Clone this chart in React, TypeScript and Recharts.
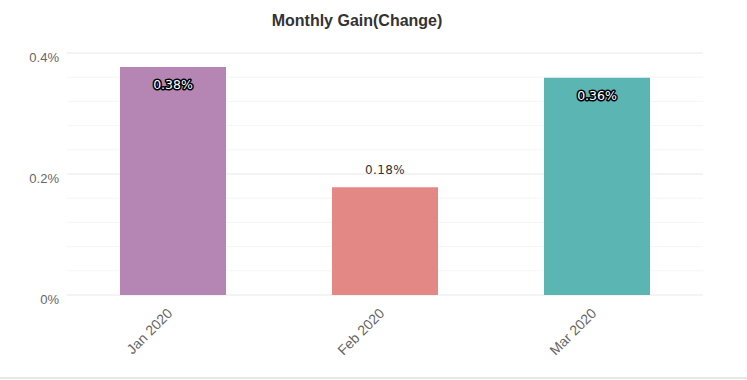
import { BarChart, Bar, XAxis, YAxis, CartesianGrid, Cell, LabelList } from 'recharts';

const months = ['Jan 2020', 'Feb 2020', 'Mar 2020'];
const gains = [0.377, 0.178, 0.359];
const barColors = ['#b586b4', '#e48885', '#5bb5b3'];
const yTicks = [0, 0.2, 0.4];
const minorTicks = [0.04, 0.08, 0.12, 0.16, 0.24, 0.28, 0.32, 0.36];

const data = months.map((m, i) => ({ month: m, gain: gains[i] }));

const XTick = (props: any) => {
  const { x, y, payload } = props;
  return (
    <g transform={`translate(${x - 4},${y + 7})`}>
      <text
        transform="rotate(-45)"
        textAnchor="end"
        fill="#666"
        fontSize={14}
        fontFamily="Liberation Sans, Arial, sans-serif"
        dy={6}
      >
        {payload.value}
      </text>
    </g>
  );
};

const YTick = (props: any) => {
  const { x, y, payload } = props;
  return (
    <text
      x={x}
      y={y + 9}
      textAnchor="end"
      fill="#666"
      fontSize={13}
      fontFamily="Liberation Sans, Arial, sans-serif"
    >
      {`${payload.value}%`}
    </text>
  );
};

const GainLabel = (props: any) => {
  const { x, y, width, value } = props;
  const cx = x + width / 2;
  const text = `${value.toFixed(2)}%`;
  if (value > 0.3) {
    return (
      <text
        x={cx}
        y={y + 22}
        textAnchor="middle"
        fontSize={12.5}
        fontFamily="DejaVu Sans, Verdana, sans-serif"
        fill="#fff"
        stroke="#000"
        strokeWidth={3}
        paintOrder="stroke"
        strokeLinejoin="round"
      >
        {text}
      </text>
    );
  }
  return (
    <text
      x={cx}
      y={y - 13}
      textAnchor="middle"
      fontSize={12}
      letterSpacing={0.4}
      fontFamily="DejaVu Sans, Verdana, sans-serif"
      fill="#333"
    >
      {text}
    </text>
  );
};

export default function App() {
  return (
    <div style={{ position: 'absolute', left: 0, top: 0, width: 747, height: 380, background: '#fff' }}>
      <BarChart
        width={747}
        height={378}
        data={data}
        margin={{ top: 53, right: 44, bottom: 0, left: 7 }}
        barCategoryGap="25%"
      >
        <text
          x={357}
          y={26}
          textAnchor="middle"
          fontSize={16}
          fontWeight="bold"
          fill="#333"
          fontFamily="Liberation Sans, Arial, sans-serif"
        >
          Monthly Gain(Change)
        </text>
        <CartesianGrid vertical={false} horizontalValues={minorTicks} stroke="#f5f5f5" />
        <CartesianGrid vertical={false} stroke="#e8e8e8" />
        <XAxis
          dataKey="month"
          axisLine={false}
          tickLine={false}
          height={83}
          interval={0}
          tick={<XTick />}
        />
        <YAxis
          width={60}
          domain={[0, 0.4]}
          ticks={yTicks}
          axisLine={false}
          tickLine={false}
          tick={<YTick />}
        />
        <Bar dataKey="gain" isAnimationActive={false}>
          {data.map((_, i) => (
            <Cell key={`cell-${i}`} fill={barColors[i]} />
          ))}
          <LabelList dataKey="gain" content={<GainLabel />} />
        </Bar>
      </BarChart>
      <div style={{ position: 'absolute', left: 0, top: 377, width: 747, height: 2, background: '#e6e6e6' }} />
    </div>
  );
}
